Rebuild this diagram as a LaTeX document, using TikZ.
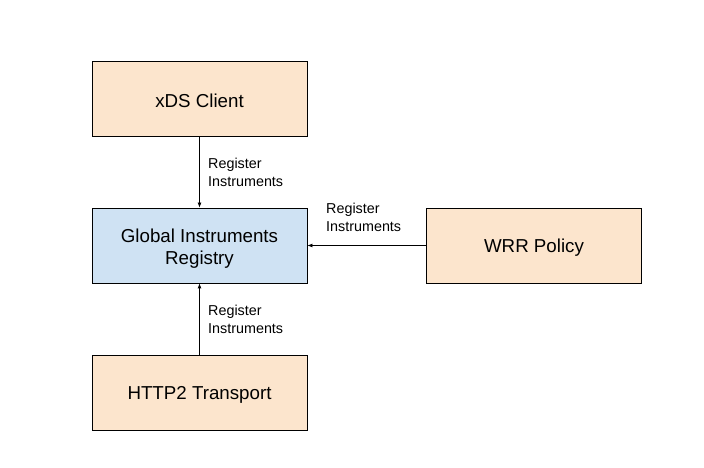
\documentclass[tikz,border=0pt]{standalone}
\usepackage{fontspec}
\setmainfont{Liberation Sans}
\usetikzlibrary{arrows.meta}
\definecolor{peach}{HTML}{FCE5CD}
\definecolor{paleblue}{HTML}{CFE2F3}
\begin{document}
\begin{tikzpicture}[x=1bp,y=-1bp,
  box/.style={draw=black,line width=0.8bp,minimum width=215bp,minimum height=75bp,inner sep=0pt},
  boxtext/.style={align=center,inner sep=0pt,font=\fontsize{18.8}{22}\selectfont},
  lbl/.style={anchor=north west,align=left,inner sep=0pt,font=\fontsize{14.4}{18}\selectfont},
  conn/.style={line width=0.8bp,-{Latex[length=5bp,width=4bp]}}]
\useasboundingbox (0,0) rectangle (704,468);
\node[box,fill=peach] (xds) at (199.5,98.5) {};
\node[box,fill=paleblue] (reg) at (199.5,245.5) {};
\node[box,fill=peach] (wrr) at (534,245.5) {};
\node[box,fill=peach] (http) at (199.5,392.5) {};
\node[boxtext] (xdst) at (199.5,101) {xDS Client};
\node[boxtext] (regt) at (199.5,248.5) {Global Instruments\\Registry};
\node[boxtext] (wrrt) at (534,248) {WRR Policy};
\node[boxtext] (httpt) at (199.5,395) {HTTP2 Transport};
\draw[conn] (xds) -- (reg);
\draw[conn] (wrr) -- (reg);
\draw[conn] (http) -- (reg);
\node[lbl] (l1) at (208,157.5) {Register\\Instruments};
\node[lbl] (l2) at (326,202.5) {Register\\Instruments};
\node[lbl] (l3) at (208,304.5) {Register\\Instruments};
\end{tikzpicture}
\end{document}
